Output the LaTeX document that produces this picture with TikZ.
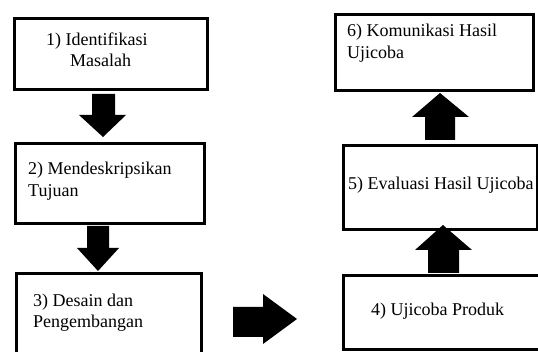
\documentclass[tikz,border=0pt]{standalone}
\usepackage{fontspec}
\setmainfont{Liberation Serif}
\begin{document}
\begin{tikzpicture}[x=1pt,y=-1pt,
  box/.style={draw=black,line width=3pt,fill=white,inner sep=0pt,anchor=north west},
  lbl/.style={anchor=base west,inner sep=0pt,font=\fontsize{18}{21}\selectfont},
  blk/.style={fill=black,draw=none}]
\clip (0,0) rectangle (538,352);
\useasboundingbox (0,0) rectangle (538,352);
% boxes
\node[box,minimum width=193pt,minimum height=71pt] (b1) at (12.5,17.5) {};
\node[box,minimum width=189pt,minimum height=80pt] (b2) at (13.5,142.5) {};
\node[box,minimum width=185pt,minimum height=90pt] (b3) at (14.5,272.5) {};
\node[box,minimum width=210pt,minimum height=74pt] (b4) at (341.5,274.5) {};
\node[box,minimum width=194pt,minimum height=84pt] (b5) at (341.5,144.5) {};
\node[box,minimum width=198pt,minimum height=76pt] (b6) at (333.5,13.5) {};
% labels
\node[lbl] (t1a) at (46,46) {1) Identifikasi};
\node[lbl] (t1b) at (70,67) {Masalah};
\node[lbl] (t2a) at (28,175) {2) Mendeskripsikan};
\node[lbl] (t2b) at (28,197) {Tujuan};
\node[lbl] (t3a) at (33,307) {3) Desain dan};
\node[lbl] (t3b) at (33,328) {Pengembangan};
\node[lbl] (t4) at (371,316) {4) Ujicoba Produk};
\node[lbl] (t5) at (348,190) {5) Evaluasi Hasil Ujicoba};
\node[lbl] (t6a) at (347,37) {6) Komunikasi Hasil};
\node[lbl] (t6b) at (347,59) {Ujicoba};
% block arrows
\fill[blk] (92,94) -- (115,94) -- (115,115) -- (126,115) -- (103,137) -- (79,115) -- (92,115) -- cycle;
\fill[blk] (87,226) -- (109,226) -- (109,248) -- (119,248) -- (98,271) -- (77,248) -- (87,248) -- cycle;
\fill[blk] (233,307) -- (263,307) -- (263,294) -- (297,319) -- (263,344) -- (263,337) -- (233,337) -- cycle;
\fill[blk] (425,140) -- (455,140) -- (455,117) -- (469,117) -- (440,93) -- (412,117) -- (425,117) -- cycle;
\fill[blk] (428,273) -- (459,273) -- (459,250) -- (472,250) -- (443,225) -- (415,250) -- (428,250) -- cycle;
\end{tikzpicture}
\end{document}
